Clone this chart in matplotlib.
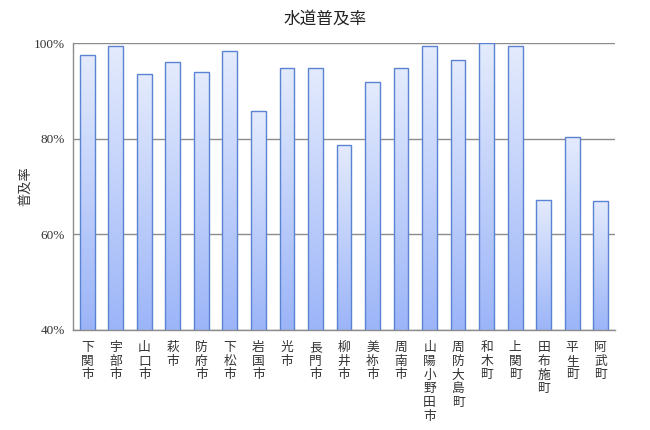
import matplotlib.pyplot as plt
import numpy as np
from matplotlib.colors import LinearSegmentedColormap

plt.rcParams['font.family'] = ['Noto Sans CJK JP', 'DejaVu Sans']

# data
cities = ["下関市", "宇部市", "山口市", "萩市", "防府市", "下松市", "岩国市", "光市",
          "長門市", "柳井市", "美祢市", "周南市", "山陽小野田市", "周防大島町", "和木町",
          "上関町", "田布施町", "平生町", "阿武町"]
rate = [97.5, 99.4, 93.5, 96.0, 93.9, 98.4, 85.7, 94.8, 94.8, 78.7, 91.8, 94.7,
        99.3, 96.4, 100.0, 99.4, 67.1, 80.3, 67.0]
yticks = [40, 60, 80, 100]

fig = plt.figure(figsize=(6.5, 4.3), dpi=100)
ax = fig.add_axes([0.1123, 0.2326, 0.8338, 0.6674])

x = np.arange(len(cities))
w = 0.52
bars = ax.bar(x, rate, width=w, bottom=0, color="none",
              edgecolor="#5b83d3", linewidth=1.0, zorder=3)

# per-bar vertical gradient, light on top, deeper blue at the base
cmap = LinearSegmentedColormap.from_list("fill", ["#9cb5f8", "#e4ebfd"])
grad = np.linspace(0, 1, 256).reshape(-1, 1)
for b in bars:
    x0 = b.get_x()
    top = b.get_height()
    im = ax.imshow(grad, cmap=cmap, origin="lower", aspect="auto",
                   extent=(x0, x0 + w, 40, top), zorder=2, interpolation="bilinear")
    im.set_clip_path(b)

ax.set_xlim(-0.5, len(cities) - 0.5)
ax.set_ylim(40, 100)
ax.set_yticks(yticks)
ax.set_yticklabels([f"{v}%" for v in yticks], family="Liberation Serif",
                   fontsize=9.5, color="#333333")
ax.grid(axis="y", color="#8c8c8c", linewidth=1.0, zorder=1)
ax.set_axisbelow(True)

ax.set_xticks(x)
ax.set_xticklabels(["\n".join(c) for c in cities], fontsize=9.2, color="#333333",
                   linespacing=1.07, va="top")
ax.tick_params(axis="x", length=0, pad=8)
ax.tick_params(axis="y", length=0, pad=6)

for s in ["top", "right"]:
    ax.spines[s].set_visible(False)
for s in ["left", "bottom"]:
    ax.spines[s].set_color("#8c8c8c")
    ax.spines[s].set_linewidth(1.0)

ax.set_ylabel("普及率", fontsize=9.5, color="#333333")
ax.yaxis.set_label_coords(-0.075, 0.5)
fig.suptitle("水道普及率", fontsize=12, x=0.5, y=0.975, color="#222222")

fig.savefig("out.png", dpi=100)
